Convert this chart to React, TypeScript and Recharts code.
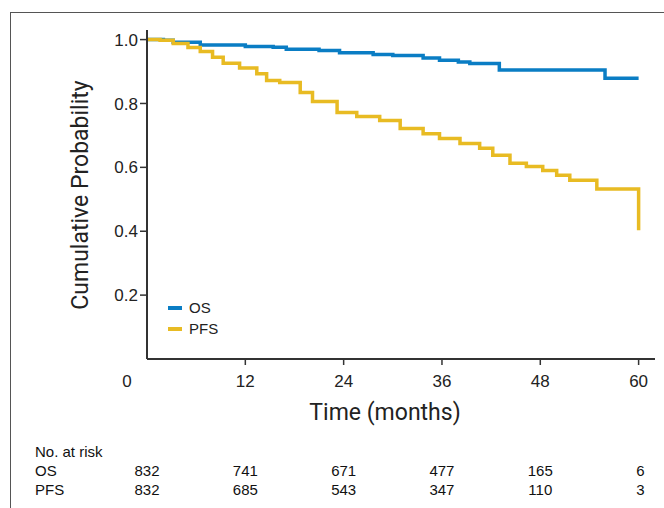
import React from 'react';
import { LineChart, Line, XAxis, YAxis } from 'recharts';

// survival estimates (months, probability)
const osTimes = [0, 2, 3.2, 6.5, 12, 15.4, 17, 21, 23.5, 27.6, 30, 33.7, 35.7, 38, 39.4, 43, 55.9, 60];
const osProb = [1.0, 0.998, 0.992, 0.983, 0.978, 0.976, 0.97, 0.966, 0.959, 0.953, 0.95, 0.942, 0.935, 0.93, 0.925, 0.905, 0.879, 0.879];

const pfsTimes = [0, 1.6, 3.2, 5, 6.5, 8, 9.3, 11.3, 13.4, 14.6, 16.2, 18.7, 20.2, 23.2, 25.6, 28.4, 30.9, 33.7, 35.7, 38.2, 40.6, 42.2, 44.3, 46.3, 48.3, 50, 51.6, 54.9, 59.9, 60];
const pfsProb = [1.0, 0.998, 0.988, 0.975, 0.963, 0.945, 0.926, 0.911, 0.893, 0.872, 0.866, 0.834, 0.806, 0.772, 0.759, 0.747, 0.722, 0.705, 0.69, 0.675, 0.66, 0.638, 0.613, 0.603, 0.59, 0.575, 0.56, 0.532, 0.532, 0.403];

const xTicks = [0, 12, 24, 36, 48, 60];
const yTicks = [0.2, 0.4, 0.6, 0.8, 1.0];
const osAtRisk = [832, 741, 671, 477, 165, 6];
const pfsAtRisk = [832, 685, 543, 347, 110, 3];

const osData = osTimes.map((t, i) => ({ t, p: osProb[i] }));
const pfsData = pfsTimes.map((t, i) => ({ t, p: pfsProb[i] }));

const OS_COLOR = '#0a7dc4';
const PFS_COLOR = '#e8bb23';
const FONT = 'Arial, "Liberation Sans", Helvetica, sans-serif';

// plot geometry, used to line the risk table up with the ticks
const PLOT_LEFT = 147;
const PLOT_RIGHT = 655;
const X_MAX = 62;
const xPos = (t: number) => PLOT_LEFT + ((PLOT_RIGHT - PLOT_LEFT) * t) / X_MAX;

const XTick = (props: any) => {
  const { x, y, payload } = props;
  const first = payload.value === 0;
  return (
    <g>
      {!first && <line x1={x} x2={x} y1={y - 8} y2={y - 2} stroke="#333" strokeWidth={1.5} />}
      <text x={first ? x - 20 : x} y={y + 20} textAnchor="middle" fontSize={17} fill="#222" fontFamily={FONT}>
        {payload.value}
      </text>
    </g>
  );
};

const App = () => {
  const cell = (t: number, v: number, key: string, last: boolean) => (
    <span key={key} style={{ position: 'absolute', left: last ? xPos(t) - 44 : xPos(t) - 20, width: last ? 50 : 40, textAlign: last ? 'right' : 'center' }}>
      {v}
    </span>
  );
  return (
    <div style={{ position: 'absolute', left: 0, top: 0, width: 664, height: 508, background: '#fff', overflow: 'hidden' }}>
      <div style={{ position: 'absolute', left: 10, top: 12, width: 700, height: 600, borderLeft: '1.5px solid #555', borderTop: '1.5px solid #555' }} />
      <LineChart width={664} height={440} data={osData} margin={{ top: 30, right: 9, bottom: 51, left: 87 }}>
        <XAxis
          dataKey="t"
          type="number"
          domain={[0, X_MAX]}
          ticks={xTicks}
          tick={<XTick />}
          tickLine={false}
          height={30}
          axisLine={{ stroke: '#333', strokeWidth: 2 }}
          allowDuplicatedCategory={false}
        />
        <YAxis
          type="number"
          domain={[0, 1.03]}
          ticks={yTicks}
          width={60}
          tickSize={7}
          tickFormatter={(v: number) => v.toFixed(1)}
          tick={{ fontSize: 17, fill: '#222', fontFamily: FONT }}
          tickLine={{ stroke: '#333', strokeWidth: 1.5 }}
          axisLine={{ stroke: '#333', strokeWidth: 2 }}
        />
        <Line data={osData} dataKey="p" name="OS" type="stepAfter" stroke={OS_COLOR} strokeWidth={3.5} dot={false} isAnimationActive={false} />
        <Line data={pfsData} dataKey="p" name="PFS" type="stepAfter" stroke={PFS_COLOR} strokeWidth={3.5} dot={false} isAnimationActive={false} />
      </LineChart>
      <div style={{ position: 'absolute', left: 168, top: 297, fontFamily: FONT, fontSize: 15, color: '#222', lineHeight: '21px' }}>
        {[['OS', OS_COLOR], ['PFS', PFS_COLOR]].map(([name, color]) => (
          <div key={name} style={{ display: 'flex', alignItems: 'center' }}>
            <span style={{ width: 14, height: 4, background: color, marginRight: 7, display: 'inline-block' }} />
            {name}
          </div>
        ))}
      </div>
      <div style={{ position: 'absolute', left: 80, top: 195, transform: 'translate(-50%, -50%) rotate(-90deg)', fontFamily: 'Roboto, sans-serif', fontSize: 23, color: '#222', whiteSpace: 'nowrap' }}>
        Cumulative Probability
      </div>
      <div style={{ position: 'absolute', left: 385, top: 412, transform: 'translate(-50%, -50%)', fontFamily: 'Roboto, sans-serif', fontSize: 23, color: '#222', whiteSpace: 'nowrap' }}>
        Time (months)
      </div>
      <div style={{ position: 'absolute', left: 0, top: 442, width: 664, fontFamily: FONT, fontSize: 15, color: '#111', lineHeight: '19px' }}>
        <div style={{ position: 'relative', height: 19 }}><span style={{ position: 'absolute', left: 35 }}>No. at risk</span></div>
        <div style={{ position: 'relative', height: 19 }}>
          <span style={{ position: 'absolute', left: 35 }}>OS</span>
          {osAtRisk.map((v, i) => cell(xTicks[i], v, 'o' + i, i === osAtRisk.length - 1))}
        </div>
        <div style={{ position: 'relative', height: 19 }}>
          <span style={{ position: 'absolute', left: 35 }}>PFS</span>
          {pfsAtRisk.map((v, i) => cell(xTicks[i], v, 'p' + i, i === pfsAtRisk.length - 1))}
        </div>
      </div>
    </div>
  );
};

export default App;
